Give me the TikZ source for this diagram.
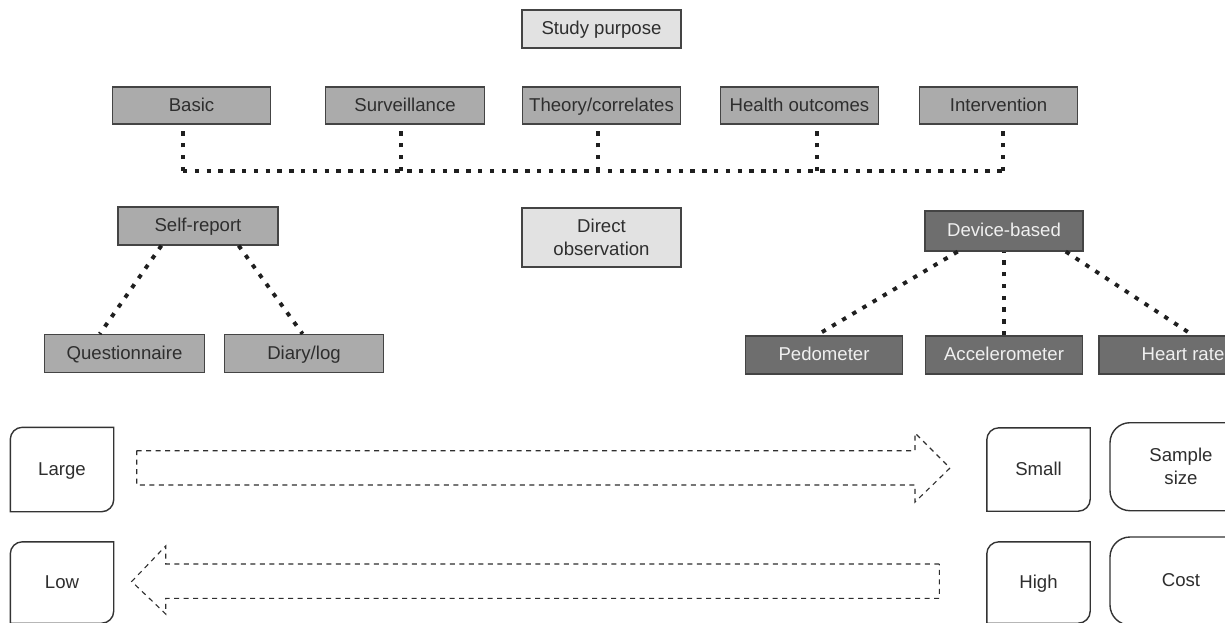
\documentclass[tikz,border=0pt]{standalone}
\usepackage{fontspec}
\setmainfont{Liberation Sans}
\usetikzlibrary{calc}
\definecolor{inkc}{HTML}{2E2E2E}
\definecolor{edgec}{HTML}{444444}
\definecolor{midfill}{HTML}{ABABAB}
\definecolor{lightfill}{HTML}{E2E2E2}
\definecolor{darkfill}{HTML}{6E6E6E}
\tikzset{
  base/.style={rectangle, inner sep=0pt, font=\fontsize{18.6}{23}\selectfont, text=inkc,
    align=center, text height=13.4pt, text depth=2pt},
  twoline/.style={text height=, text depth=},
  catbox/.style={base, draw=edgec, line width=1.2pt, fill=midfill},
  topbox/.style={catbox, fill=lightfill},
  devbox/.style={catbox, fill=darkfill, text=white!94!black},
  valbox/.style={base},
  dotlink/.style={line width=3.9pt, dash pattern=on 4.4pt off 7.4pt, draw=black!88},
  flow/.style={line width=1.1pt, dash pattern=on 5pt off 4.5pt, draw=inkc},
  frame/.style={draw=black!80, line width=1.4pt},
}
% box with rounded top-left and bottom-right corners around a node
\newcommand\leafbox[2]{%
  \draw[frame] ([xshift=#2pt]#1.north west) -- (#1.north east)
    -- ([yshift=#2pt]#1.south east) arc[start angle=0,end angle=-90,radius=#2pt]
    -- (#1.south west) -- ([yshift=-#2pt]#1.north west)
    arc[start angle=180,end angle=90,radius=#2pt] -- cycle;}
\begin{document}
\begin{tikzpicture}[x=1pt,y=-1pt]
\useasboundingbox (0,0) rectangle (1225,623);
\fill[white] (0,0) rectangle (1225,623);
\clip (0,0) rectangle (1225,623);

% study purposes
\node[topbox, minimum width=159pt, minimum height=38pt] (study) at (601.5,29) {Study purpose};
\begin{scope}[every node/.append style={catbox, minimum width=158.5pt, minimum height=37pt}]
  \node (basic)  at (191.5,105.5) {Basic};
  \node (surv)   at (405,105.5)   {Surveillance};
  \node (theory) at (601.5,105.5) {Theory/correlates};
  \node (health) at (799.5,105.5) {Health outcomes};
  \node (interv) at (998.5,105.5) {Intervention};
\end{scope}

\coordinate (j1) at (183,171);
\coordinate (j2) at (401,171);
\coordinate (j3) at (598,171);
\coordinate (j4) at (817,171);
\coordinate (j5) at (1003,171);
\draw[dotlink] (j1) -- (j5);
\draw[dotlink] (j1) -- (basic.south -| j1);
\draw[dotlink] (j2) -- (surv.south -| j2);
\draw[dotlink] (j3) -- (theory.south -| j3);
\draw[dotlink] (j4) -- (health.south -| j4);
\draw[dotlink] (j5) -- (interv.south -| j5);

% measurement methods
\node[catbox, minimum width=160pt, minimum height=38pt] (self) at (198,226) {Self-report};
\node[topbox, twoline, minimum width=159pt, minimum height=59pt] (direct) at (601.5,237.5) {Direct\\observation};
\node[devbox, minimum width=158pt, minimum height=40pt] (device) at (1004,231) {Device-based};

\node[catbox, minimum width=159.5pt, minimum height=38pt] (quest) at (124.5,353.5) {Questionnaire};
\node[catbox, minimum width=159.5pt, minimum height=38pt] (diary) at (304,353.5) {Diary/log};
\begin{scope}[every node/.append style={devbox, minimum height=38pt}]
  \node[minimum width=157.5pt] (pedo)  at (824,355)  {Pedometer};
  \node[minimum width=157.5pt] (accel) at (1004,355) {Accelerometer};
  \node[minimum width=168pt]   (heart) at (1183,355) {Heart rate};
\end{scope}

\draw[dotlink] ($(self.south west)!0.273!(self.south east)$) -- ($(quest.north west)!0.346!(quest.north east)$);
\draw[dotlink] ($(self.south west)!0.752!(self.south east)$) -- ($(diary.north west)!0.491!(diary.north east)$);
\draw[dotlink] ($(device.south west)!0.209!(device.south east)$) -- ($(pedo.north west)!0.452!(pedo.north east)$);
\draw[dotlink] (accel.north) -- (device.south);
\draw[dotlink] ($(device.south west)!0.888!(device.south east)$) -- ($(heart.north west)!0.56!(heart.north east)$);

% trade-off scales
\node[valbox, minimum width=103pt, minimum height=84pt] (large) at (62,469.5) {Large};
\node[valbox, minimum width=103pt, minimum height=83pt] (small) at (1038.5,469.5) {Small};
\node[valbox, minimum width=103pt, minimum height=81pt] (low) at (62,582.5) {Low};
\node[valbox, minimum width=103pt, minimum height=81pt] (high) at (1038.5,582.5) {High};
\leafbox{large}{12}
\leafbox{small}{12}
\leafbox{low}{12}
\leafbox{high}{12}
\node[valbox, twoline, frame, rounded corners=20pt, minimum width=142pt, minimum height=88pt] (sample) at (1181,466.7) {Sample\\size};
\node[valbox, frame, rounded corners=20pt, minimum width=142pt, minimum height=88pt] (cost) at (1181,581) {Cost};

\draw[flow] (136.7,450.7) -- (915,450.7) -- (915,433) -- (950,468) -- (915,502) -- (915,485) -- (136.7,485) -- cycle;
\draw[flow] (939.3,564) -- (165.7,564) -- (165.7,546) -- (131.7,581.5) -- (165.7,614) -- (165.7,598.3) -- (939.3,598.3) -- cycle;
\end{tikzpicture}
\end{document}
